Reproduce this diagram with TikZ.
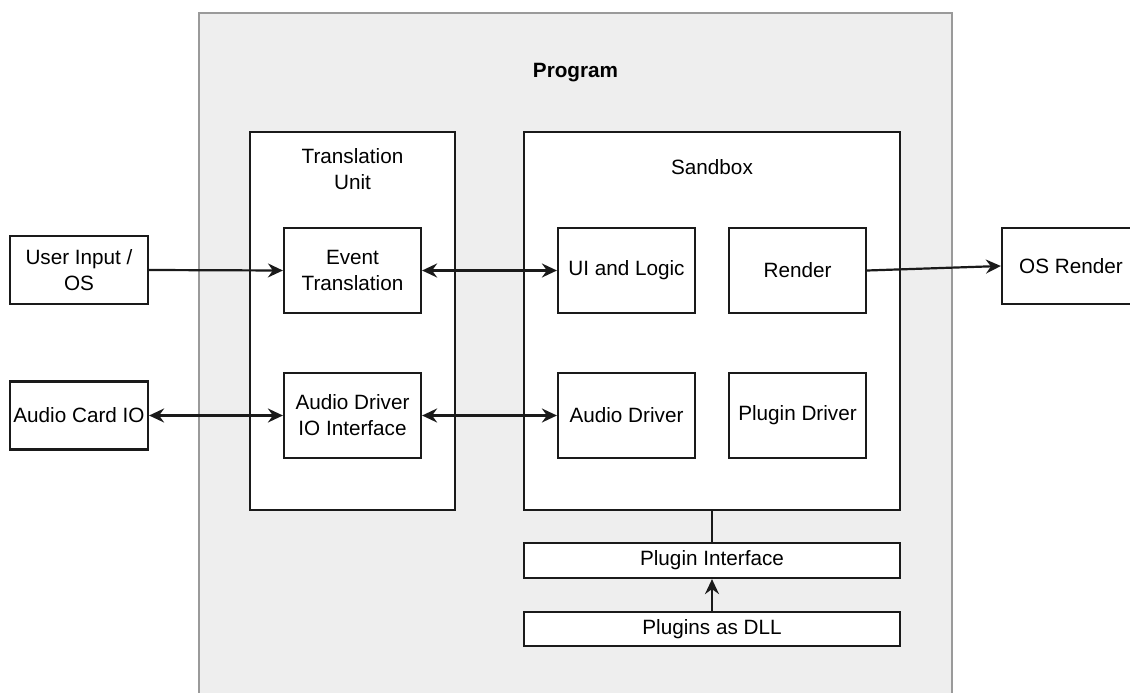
\documentclass[tikz,border=0pt]{standalone}
\usepackage{fontspec}
\setmainfont{Liberation Sans}
\usetikzlibrary{arrows.meta}
\definecolor{progfill}{HTML}{EEEEEE}
\definecolor{progline}{HTML}{9A9A9A}
\definecolor{lineblack}{HTML}{1A1A1A}
\tikzset{
  box/.style={draw=lineblack, line width=2.2pt, fill=white, inner sep=0pt, align=center,
    font=\fontsize{20.7}{26}\selectfont},
  conn/.style={draw=lineblack, line width=2.2pt},
  tip/.style={-{Stealth[length=15pt,width=14pt,inset=5pt]}},
  bitip/.style={{Stealth[length=15pt,width=14pt,inset=5pt]}-{Stealth[length=15pt,width=14pt,inset=5pt]}},
  lbl/.style={inner sep=0pt, align=center, font=\fontsize{20.7}{26}\selectfont}
}
\begin{document}
\begin{tikzpicture}[x=1pt,y=-1pt]
\useasboundingbox (0,0) rectangle (1130,693);
\clip (0,0) rectangle (1130,693);
\fill[white] (0,0) rectangle (1130,693);
% Program container
\draw[fill=progfill, draw=progline, line width=2.2pt] (199,13) rectangle (952,760);
\node[lbl, font=\fontsize{20.7}{26}\selectfont\bfseries] (programlabel) at (575.5,73) {Program};
% Translation unit and sandbox
\node[box, minimum width=205pt, minimum height=378pt] (tu) at (352.5,321) {};
\node[lbl] (tulabel) at (352.5,169) {Translation\\Unit};
\node[box, minimum width=376pt, minimum height=378pt] (sandbox) at (712,321) {};
\node[lbl] (sandboxlabel) at (712,167) {Sandbox};
% inner nodes
\node[box, minimum width=137pt, minimum height=85pt] (event) at (352.5,270.5) {Event\\Translation};
\node[box, minimum width=137pt, minimum height=85pt] (audioio) at (352.5,415.5) {Audio Driver\\IO Interface};
\node[box, minimum width=137pt, minimum height=85pt] (ui) at (626.5,270.5) {UI and Logic};
\node[box, minimum width=137pt, minimum height=85pt] (render) at (797.5,270.5) {Render};
\node[box, minimum width=137pt, minimum height=85pt] (audiodrv) at (626.5,415.5) {Audio Driver};
\node[box, minimum width=137pt, minimum height=85pt] (plugindrv) at (797.5,415.5) {Plugin Driver};
% outside nodes
\node[box, minimum width=138pt, minimum height=68pt] (user) at (79,270) {User Input /\\OS};
\node[box, minimum width=138pt, minimum height=68pt] (card) at (79,415.5) {Audio Card IO};
\node[box, minimum width=138pt, minimum height=76pt] (osrender) at (1071,266) {OS Render};
% plugin bars
\node[box, minimum width=376pt, minimum height=35pt] (pluginif) at (712,560.5) {Plugin Interface};
\node[box, minimum width=376pt, minimum height=34pt] (dll) at (712,629) {Plugins as DLL};
% connectors
\draw[conn, tip] (user.east) -- (event.west);
\draw[conn, bitip] (card.east) -- (audioio.west);
\draw[conn, bitip] (event.east) -- (ui.west);
\draw[conn, bitip] (audioio.east) -- (audiodrv.west);
\draw[conn, tip] (render.east) -- (osrender.west);
\draw[conn] (sandbox.south) -- (pluginif.north);
\draw[conn, tip] (dll.north) -- (pluginif.south);
\end{tikzpicture}
\end{document}
